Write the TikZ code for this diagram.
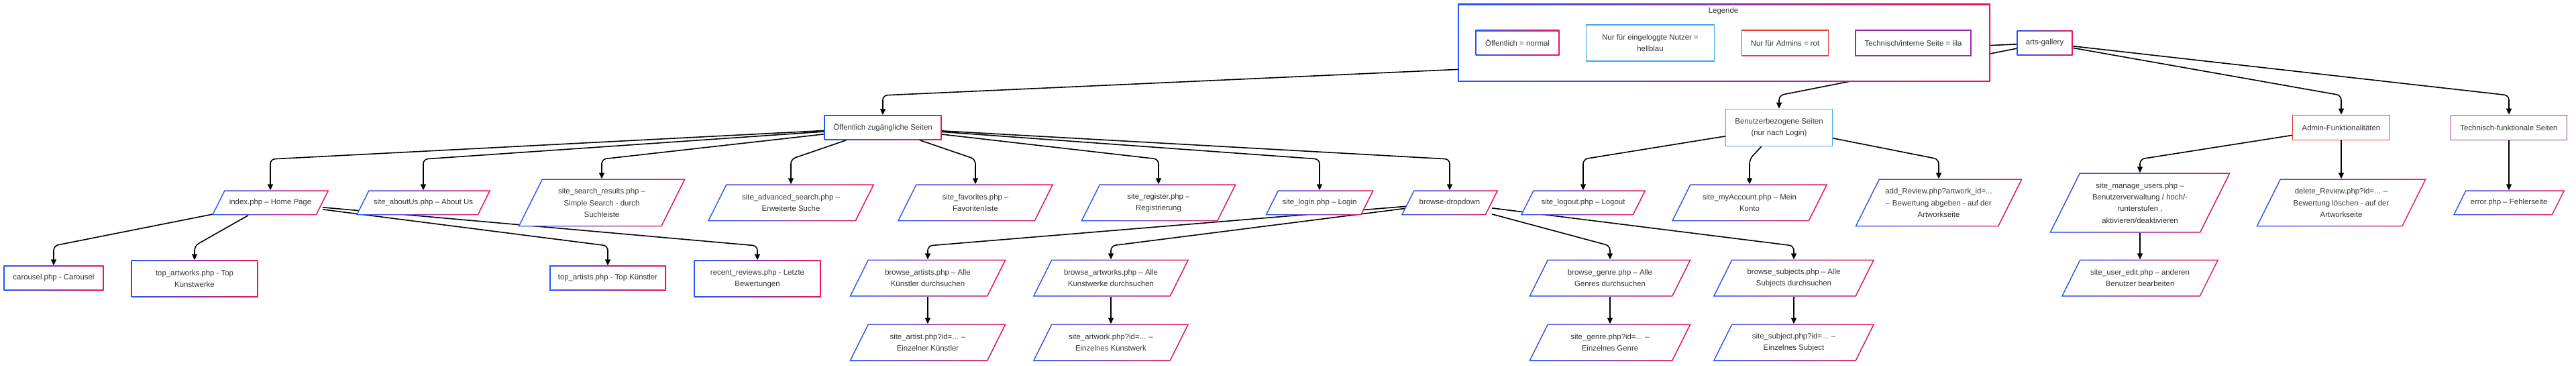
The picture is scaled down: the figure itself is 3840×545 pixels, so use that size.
\documentclass[tikz,border=0pt]{standalone}
\usepackage{fontspec}
\setmainfont{Liberation Sans}
\usetikzlibrary{arrows.meta,calc}
\definecolor{gblue}{RGB}{35,85,250}
\definecolor{gred}{RGB}{240,20,85}
\definecolor{lblue}{RGB}{66,165,245}
\definecolor{ared}{RGB}{229,57,53}
\definecolor{lila}{RGB}{156,39,176}
\definecolor{txt}{RGB}{51,51,51}
\pgfdeclarelayer{bglayer}
\pgfdeclarelayer{edgelayer}
\pgfsetlayers{bglayer,edgelayer,main}
\newcommand\bw{1.6}
\tikzset{
  lbl/.style={inner sep=0pt, align=center, text=txt, font=\fontsize{11.4bp}{17.3bp}\selectfont},
  edgeline/.style={draw=black, line width=1.6bp, -{Triangle[length=9bp,width=8bp]}, rounded corners=7bp},
}
% parallelogram with gradient border: name, x, y, w, h, text
\newcommand\parnode[6]{%
  \shade[left color=gblue,right color=gred]
    ({#2-#4/2+#5/4},{#3-#5/2}) -- ({#2+#4/2+#5/4},{#3-#5/2}) --
    ({#2+#4/2-#5/4},{#3+#5/2}) -- ({#2-#4/2-#5/4},{#3+#5/2}) -- cycle;
  \fill[white]
    ({#2-#4/2+#5/4+0.618*\bw},{#3-#5/2+\bw}) -- ({#2+#4/2+#5/4-1.618*\bw},{#3-#5/2+\bw}) --
    ({#2+#4/2-#5/4-0.618*\bw},{#3+#5/2-\bw}) -- ({#2-#4/2-#5/4+1.618*\bw},{#3+#5/2-\bw}) -- cycle;
  \node[lbl, minimum width=#4bp, minimum height=#5bp] (#1) at (#2,#3) {#6};
}
% rectangle with gradient border
\newcommand\grnode[6]{%
  \shade[left color=gblue,right color=gred] ({#2-#4/2},{#3-#5/2}) rectangle ({#2+#4/2},{#3+#5/2});
  \fill[white] ({#2-#4/2+\bw},{#3-#5/2+\bw}) rectangle ({#2+#4/2-\bw},{#3+#5/2-\bw});
  \node[lbl, minimum width=#4bp, minimum height=#5bp] (#1) at (#2,#3) {#6};
}
% rectangle with solid coloured border: name, colour, x, y, w, h, text
\newcommand\colnode[7]{%
  \node[lbl, draw=#2, line width=\bw bp, fill=white, minimum width=#5bp, minimum height=#6bp] (#1) at (#3,#4) {#7};
}
\begin{document}
\begin{tikzpicture}[x=1bp,y=-1bp]
\begin{pgfonlayer}{bglayer}
\fill[white] (0,0) rectangle (3840,545);
\end{pgfonlayer}
\useasboundingbox (0,0) rectangle (3840,545);

\coordinate (r0) at (0,142);
\coordinate (r1) at (0,237);
\coordinate (r2) at (0,366);

% legend
\grnode{legend}{2570}{64}{794}{116}{}
\node[lbl] (legtitle) at (2569,17) {Legende};
\grnode{leg1}{2262}{64}{125}{38}{Öffentlich = normal}
\colnode{leg2}{lblue}{2460}{64}{191}{54}{Nur für eingeloggte Nutzer =\\hellblau}
\colnode{leg3}{ared}{2661}{64}{129}{38}{Nur für Admins = rot}
\colnode{leg4}{lila}{2852}{64}{172}{38}{Technisch/interne Seite = lila}

% root and level 1
\grnode{arts}{3048}{64}{83}{37}{arts-gallery}
\grnode{oeff}{1316}{190}{175}{37}{Öffentlich zugängliche Seiten}
\colnode{benutzer}{lblue}{2652}{190}{159}{55}{Benutzerbezogene Seiten\\(nur nach Login)}
\colnode{admin}{ared}{3490}{190}{145}{37}{Admin-Funktionalitäten}
\colnode{tech}{lila}{3740}{190}{173}{37}{Technisch-funktionale Seiten}

% level 2
\parnode{index}{403}{302}{156}{37}{index.php – Home Page}
\parnode{about}{631}{302}{182}{37}{site\_aboutUs.php – About Us}
\parnode{search}{897}{302}{214}{71}{site\_search\_results.php –\\Simple Search - durch\\Suchleiste}
\parnode{advsearch}{1179}{302}{221}{55}{site\_advanced\_search.php –\\Erweiterte Suche}
\parnode{fav}{1454}{302}{205}{55}{site\_favorites.php –\\Favoritenliste}
\parnode{register}{1727}{302}{204}{55}{site\_register.php –\\Registrierung}
\parnode{login}{1967}{302}{143}{37}{site\_login.php – Login}
\parnode{bdd}{2161}{302}{126}{37}{browse-dropdown}
\parnode{logout}{2360}{302}{168}{37}{site\_logout.php – Logout}
\parnode{myacc}{2608}{302}{205}{55}{site\_myAccount.php – Mein\\Konto}
\parnode{addrev}{2890}{302}{214}{71}{add\_Review.php?artwork\_id=...\\– Bewertung abgeben - auf der\\Artworkseite}
\parnode{manage}{3190}{302}{225}{89}{site\_manage\_users.php –\\Benutzerverwaltung / hoch/-\\runterstufen ,\\aktivieren/deaktivieren}
\parnode{delrev}{3490}{302}{218}{71}{delete\_Review.php?id=... –\\Bewertung löschen - auf der\\Artworkseite}
\parnode{error}{3740}{302}{148}{37}{error.php – Fehlerseite}

% level 3
\grnode{carousel}{80}{414}{149}{37}{carousel.php - Carousel}
\grnode{topartworks}{290}{415}{189}{55}{top\_artworks.php - Top\\Kunstwerke}
\grnode{topartists}{906}{414}{174}{37}{top\_artists.php - Top Künstler}
\grnode{recent}{1129}{415}{189}{55}{recent\_reviews.php - Letzte\\Bewertungen}
\parnode{bartists}{1383}{414}{206}{55}{browse\_artists.php – Alle\\Künstler durchsuchen}
\parnode{bartworks}{1656}{414}{205}{55}{browse\_artworks.php – Alle\\Kunstwerke durchsuchen}
\parnode{bgenre}{2400}{414}{214}{55}{browse\_genre.php – Alle\\Genres durchsuchen}
\parnode{bsubjects}{2674}{414}{213}{55}{browse\_subjects.php – Alle\\Subjects durchsuchen}
\parnode{useredit}{3190}{414}{207}{55}{site\_user\_edit.php – anderen\\Benutzer bearbeiten}

% level 4
\parnode{sartist}{1383}{510}{206}{55}{site\_artist.php?id=... –\\Einzelner Künstler}
\parnode{sartwork}{1656}{510}{205}{55}{site\_artwork.php?id=... –\\Einzelnes Kunstwerk}
\parnode{sgenre}{2400}{510}{214}{55}{site\_genre.php?id=... –\\Einzelnes Genre}
\parnode{ssubject}{2674}{510}{213}{55}{site\_subject.php?id=... –\\Einzelnes Subject}

\begin{pgfonlayer}{edgelayer}
\foreach \t in {oeff,benutzer,admin,tech}
  \draw[edgeline] (arts) -- (\t.north |- r0) -- (\t.north);
\foreach \t in {index,about,search,advsearch,fav,register,login,bdd}
  \draw[edgeline] (oeff) -- (\t.north |- r1) -- (\t.north);
\foreach \t in {logout,myacc,addrev}
  \draw[edgeline] (benutzer) -- (\t.north |- r1) -- (\t.north);
\draw[edgeline] (admin) -- (manage.north |- r1) -- (manage.north);
\draw[edgeline] (admin.south) -- (delrev.north);
\draw[edgeline] (tech.south) -- (error.north);
\draw[edgeline] (manage.south) -- (useredit.north);
\foreach \t in {carousel,topartworks,topartists,recent}
  \draw[edgeline] (index) -- (\t.north |- r2) -- (\t.north);
\foreach \t in {bartists,bartworks,bgenre,bsubjects}
  \draw[edgeline] (bdd) -- (\t.north |- r2) -- (\t.north);
\draw[edgeline] (bartists.south) -- (sartist.north);
\draw[edgeline] (bartworks.south) -- (sartwork.north);
\draw[edgeline] (bgenre.south) -- (sgenre.north);
\draw[edgeline] (bsubjects.south) -- (ssubject.north);
\end{pgfonlayer}
\end{tikzpicture}
\end{document}
